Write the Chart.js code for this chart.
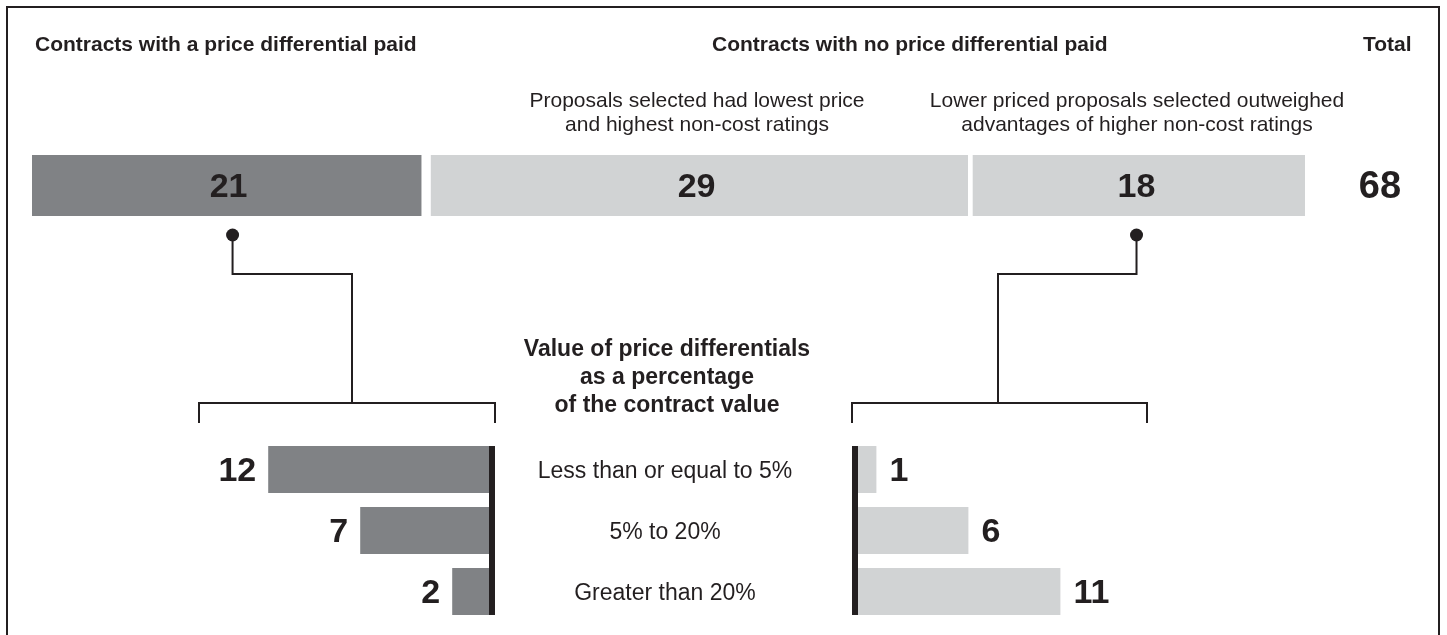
<!DOCTYPE html>
<html>
<head>
<meta charset="utf-8">
<script src="https://cdn.jsdelivr.net/npm/chart.js@4/dist/chart.umd.min.js"></script>
<style>
body { margin: 0; background: #fff; font-family: "Liberation Sans", Arial, sans-serif; color: #231f20; }
#wrap { position: relative; width: 1447px; height: 635px; overflow: hidden; }
#frame { position: absolute; left: 6px; top: 6px; width: 1434px; height: 660px; border: 2px solid #231f20; box-sizing: border-box; }
canvas { position: absolute; left: 0; top: 0; }
.t { position: absolute; white-space: nowrap; }
.h { font-weight: bold; font-size: 21px; line-height: 24px; top: 32px; }
.s { font-size: 21px; line-height: 24px; top: 88px; text-align: center; transform: translateX(-50%); }
.ttl { font-weight: bold; font-size: 23px; line-height: 28px; top: 334px; text-align: center; transform: translateX(-50%); }
</style>
</head>
<body>
<div id="wrap">
  <div id="frame"></div>
  <canvas id="topChart" width="1447" height="635"></canvas>
  <canvas id="leftChart" width="1447" height="635"></canvas>
  <canvas id="rightChart" width="1447" height="635"></canvas>
  <div class="t h" style="left:35px">Contracts with a price differential paid</div>
  <div class="t h" style="left:712px">Contracts with no price differential paid</div>
  <div class="t h" style="left:1363px">Total</div>
  <div class="t s" style="left:697px">Proposals selected had lowest price<br>and highest non-cost ratings</div>
  <div class="t s" style="left:1137px">Lower priced proposals selected outweighed<br>advantages of higher non-cost ratings</div>
  <div class="t ttl" style="left:667px">Value of price differentials<br>as a percentage<br>of the contract value</div>
</div>
<script>
const topLabels = ['Price differential paid', 'Lowest price and highest non-cost ratings', 'Lower price outweighed higher non-cost ratings'];
const topValues = [21, 29, 18];
const topColors = ['#808285', '#d1d3d4', '#d1d3d4'];
const rangeLabels = ['Less than or equal to 5%', '5% to 20%', 'Greater than 20%'];
const paidValues = [12, 7, 2];
const notPaidValues = [1, 6, 11];

const ink = '#231f20';
const font = '"Liberation Sans", Arial, sans-serif';

// separators between the top segments
const topBorders = [{ right: 4 }, { left: 6 }, { left: 5 }];

// value labels, total and the connector lines for the top bar
const topPlugin = {
    id: 'topLabels',
    afterDraw(chart) {
        const ctx = chart.ctx;
        ctx.save();
        ctx.fillStyle = ink;
        ctx.font = 'bold 34px ' + font;
        ctx.textAlign = 'center';
        ctx.textBaseline = 'middle';
        let yMid = 0;
        topValues.forEach((v, i) => {
            const bar = chart.getDatasetMeta(i).data[0];
            yMid = bar.y;
            ctx.fillText(v, (bar.x + bar.base) / 2, bar.y + 2);
        });
        const total = topValues.reduce((a, b) => a + b, 0);
        ctx.font = 'bold 38px ' + font;
        ctx.fillText(total, 1380, yMid + 2);

        // connectors
        const first = chart.getDatasetMeta(0).data[0];
        const last = chart.getDatasetMeta(topValues.length - 1).data[0];
        const links = [
            { x: (first.x + first.base) / 2 + 4, mid: 352, l: 199, r: 495 },
            { x: (last.x + last.base) / 2, mid: 998, l: 852, r: 1147 }
        ];
        ctx.strokeStyle = ink;
        ctx.lineWidth = 2;
        links.forEach(k => {
            ctx.beginPath();
            ctx.arc(k.x, 235, 6.5, 0, Math.PI * 2);
            ctx.fill();
            ctx.beginPath();
            ctx.moveTo(k.x, 235);
            ctx.lineTo(k.x, 274);
            ctx.lineTo(k.mid, 274);
            ctx.lineTo(k.mid, 403);
            ctx.moveTo(k.l, 423);
            ctx.lineTo(k.l, 403);
            ctx.lineTo(k.r, 403);
            ctx.lineTo(k.r, 423);
            ctx.stroke();
        });
        ctx.restore();
    }
};

new Chart(document.getElementById('topChart'), {
    type: 'bar',
    data: {
        labels: ['Contracts'],
        datasets: topValues.map((v, i) => ({
            label: topLabels[i],
            data: [v],
            backgroundColor: topColors[i],
            borderColor: '#ffffff',
            borderWidth: topBorders[i],
            borderSkipped: false,
            barPercentage: 1,
            categoryPercentage: 1
        }))
    },
    options: {
        indexAxis: 'y',
        responsive: false,
        animation: false,
        devicePixelRatio: 1,
        layout: { padding: { left: 32, right: 142, top: 155, bottom: 419 } },
        plugins: { legend: { display: false }, tooltip: { enabled: false } },
        scales: {
            x: { stacked: true, min: 0, max: 68, display: false },
            y: { stacked: true, display: false }
        }
    },
    plugins: [topPlugin]
});

// bottom bar charts: axis line + value labels (+ range labels on the right chart)
function sidePlugin(side) {
    return {
        id: 'side' + side,
        afterDatasetsDraw(chart) {
            const ctx = chart.ctx;
            const bars = chart.getDatasetMeta(0).data;
            const vals = chart.data.datasets[0].data;
            ctx.save();
            const top = bars[0].y - bars[0].height / 2;
            const bottom = bars[bars.length - 1].y + bars[bars.length - 1].height / 2;
            const base = bars[0].base;
            ctx.fillStyle = ink;
            if (side === 'left') ctx.fillRect(base, top, 6, bottom - top);
            else ctx.fillRect(base - 6, top, 6, bottom - top);

            ctx.font = 'bold 34px ' + font;
            ctx.textBaseline = 'middle';
            bars.forEach((b, i) => {
                if (side === 'left') {
                    ctx.textAlign = 'right';
                    ctx.fillText(vals[i], b.x - 12, b.y + 2);
                } else {
                    ctx.textAlign = 'left';
                    ctx.fillText(vals[i], b.x + 13, b.y + 2);
                }
            });

            if (side === 'right') {
                ctx.font = '23px ' + font;
                ctx.textAlign = 'center';
                const yScale = chart.scales.y;
                rangeLabels.forEach((lab, i) => {
                    ctx.fillText(lab, 665, yScale.getPixelForValue(i) + 2);
                });
            }
            ctx.restore();
        }
    };
}

function sideChart(id, values, color, side) {
    const pad = side === 'left'
        ? { left: 213, right: 958, top: 439, bottom: 13 }
        : { left: 858, right: 313, top: 439, bottom: 13 };
    return new Chart(document.getElementById(id), {
        type: 'bar',
        data: {
            labels: rangeLabels,
            datasets: [{
                data: values,
                backgroundColor: color,
                borderWidth: 0,
                barPercentage: 0.77,
                categoryPercentage: 1
            }]
        },
        options: {
            indexAxis: 'y',
            responsive: false,
            animation: false,
            devicePixelRatio: 1,
            layout: { padding: pad },
            plugins: { legend: { display: false }, tooltip: { enabled: false } },
            scales: {
                x: { min: 0, max: 15, reverse: side === 'left', display: false },
                y: { display: false }
            }
        },
        plugins: [sidePlugin(side)]
    });
}

sideChart('leftChart', paidValues, '#808285', 'left');
sideChart('rightChart', notPaidValues, '#d1d3d4', 'right');
</script>
</body>
</html>
